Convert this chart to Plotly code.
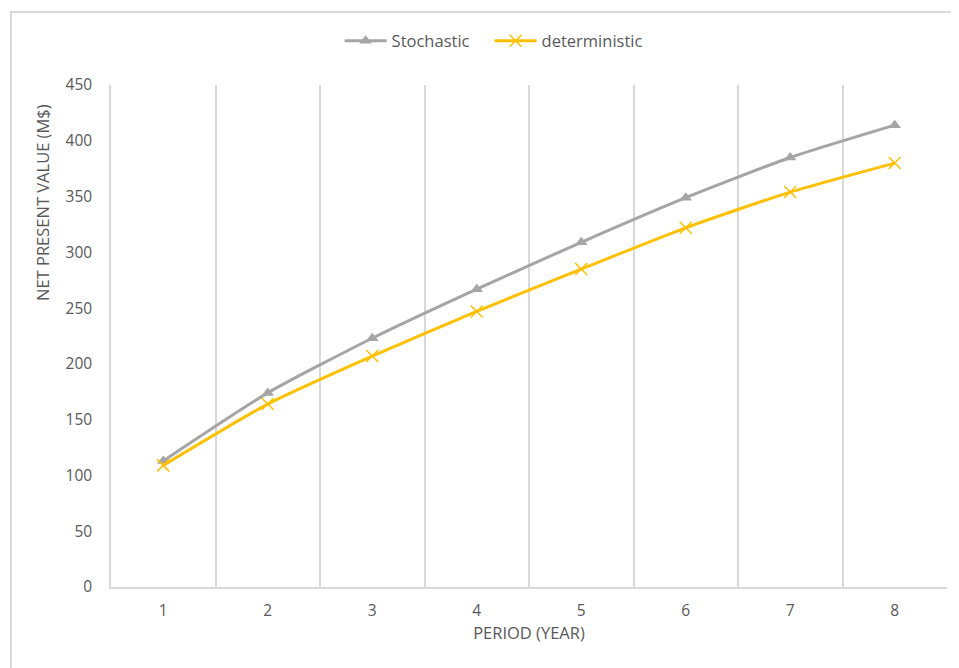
import plotly.graph_objects as go

periods = [1, 2, 3, 4, 5, 6, 7, 8]
stochastic = [113, 174, 223, 267, 309, 349, 385, 414]
deterministic = [109, 164, 207, 247, 285, 322, 354, 380]
y_ticks = [0, 50, 100, 150, 200, 250, 300, 350, 400, 450]

FONT = "Open Sans"
GRID = "#D9D9D9"
TXT = "#595959"

fig = go.Figure()
fig.add_trace(go.Scatter(
    x=periods, y=stochastic, name="Stochastic", mode="lines+markers",
    line=dict(color="#A5A5A5", width=3, shape="spline", smoothing=0.6),
    marker=dict(symbol="triangle-up", size=11, color="#A5A5A5"),
    legend="legend",
))
fig.add_trace(go.Scatter(
    x=periods, y=deterministic, name="deterministic", mode="lines+markers",
    line=dict(color="#FFC000", width=3, shape="spline", smoothing=0.6),
    marker=dict(symbol="x-thin", size=12, color="#FFC000",
                line=dict(color="#FFC000", width=1.5)),
    legend="legend2",
))

legend_common = dict(orientation="h", xref="container", yref="container",
                     xanchor="left", y=0.95, yanchor="middle",
                     font=dict(family=FONT, size=16.5, color=TXT),
                     itemwidth=42, bgcolor="rgba(0,0,0,0)")

fig.update_layout(
    width=951, height=660,
    margin=dict(l=103, r=12, t=77, b=81),
    paper_bgcolor="white", plot_bgcolor="white",
    font=dict(family=FONT, size=15.5, color=TXT),
    showlegend=True,
    legend=dict(x=0.3487, **legend_common),
    legend2=dict(x=0.5064, **legend_common),
    xaxis=dict(
        range=[0.5, 8.5], tickmode="array", tickvals=periods,
        ticktext=[str(p) for p in periods],
        showgrid=False, zeroline=False,
        showline=True, linecolor=GRID, linewidth=1.5,
        ticks="", ticklabelstandoff=9,
        tickfont=dict(family=FONT, size=15.5, color=TXT),
        minor=dict(tickmode="array", tickvals=[p + 0.5 for p in periods],
                   showgrid=True, gridcolor=GRID, gridwidth=1.5),
        title=dict(text="PERIOD (YEAR)", standoff=7,
                   font=dict(family=FONT, size=16.5, color=TXT)),
    ),
    yaxis=dict(
        range=[0, 450], tickmode="array", tickvals=y_ticks,
        showgrid=False, zeroline=False,
        showline=True, linecolor=GRID, linewidth=1.5,
        ticks="", ticklabelstandoff=14,
        tickfont=dict(family=FONT, size=15.5, color=TXT),
    ),
    annotations=[dict(
        text="NET PRESENT VALUE (M$)", textangle=-90,
        xref="paper", yref="paper", x=-0.0813, y=0.765,
        xanchor="center", yanchor="middle", showarrow=False,
        font=dict(family=FONT, size=16.5, color=TXT),
    )],
    shapes=[dict(
        type="rect", xref="paper", yref="paper",
        x0=-0.1196, x1=1.2, y0=-0.4, y1=1.1454,
        line=dict(color=GRID, width=2), fillcolor="rgba(0,0,0,0)",
        layer="below",
    )],
)

fig.write_html("out.html")
